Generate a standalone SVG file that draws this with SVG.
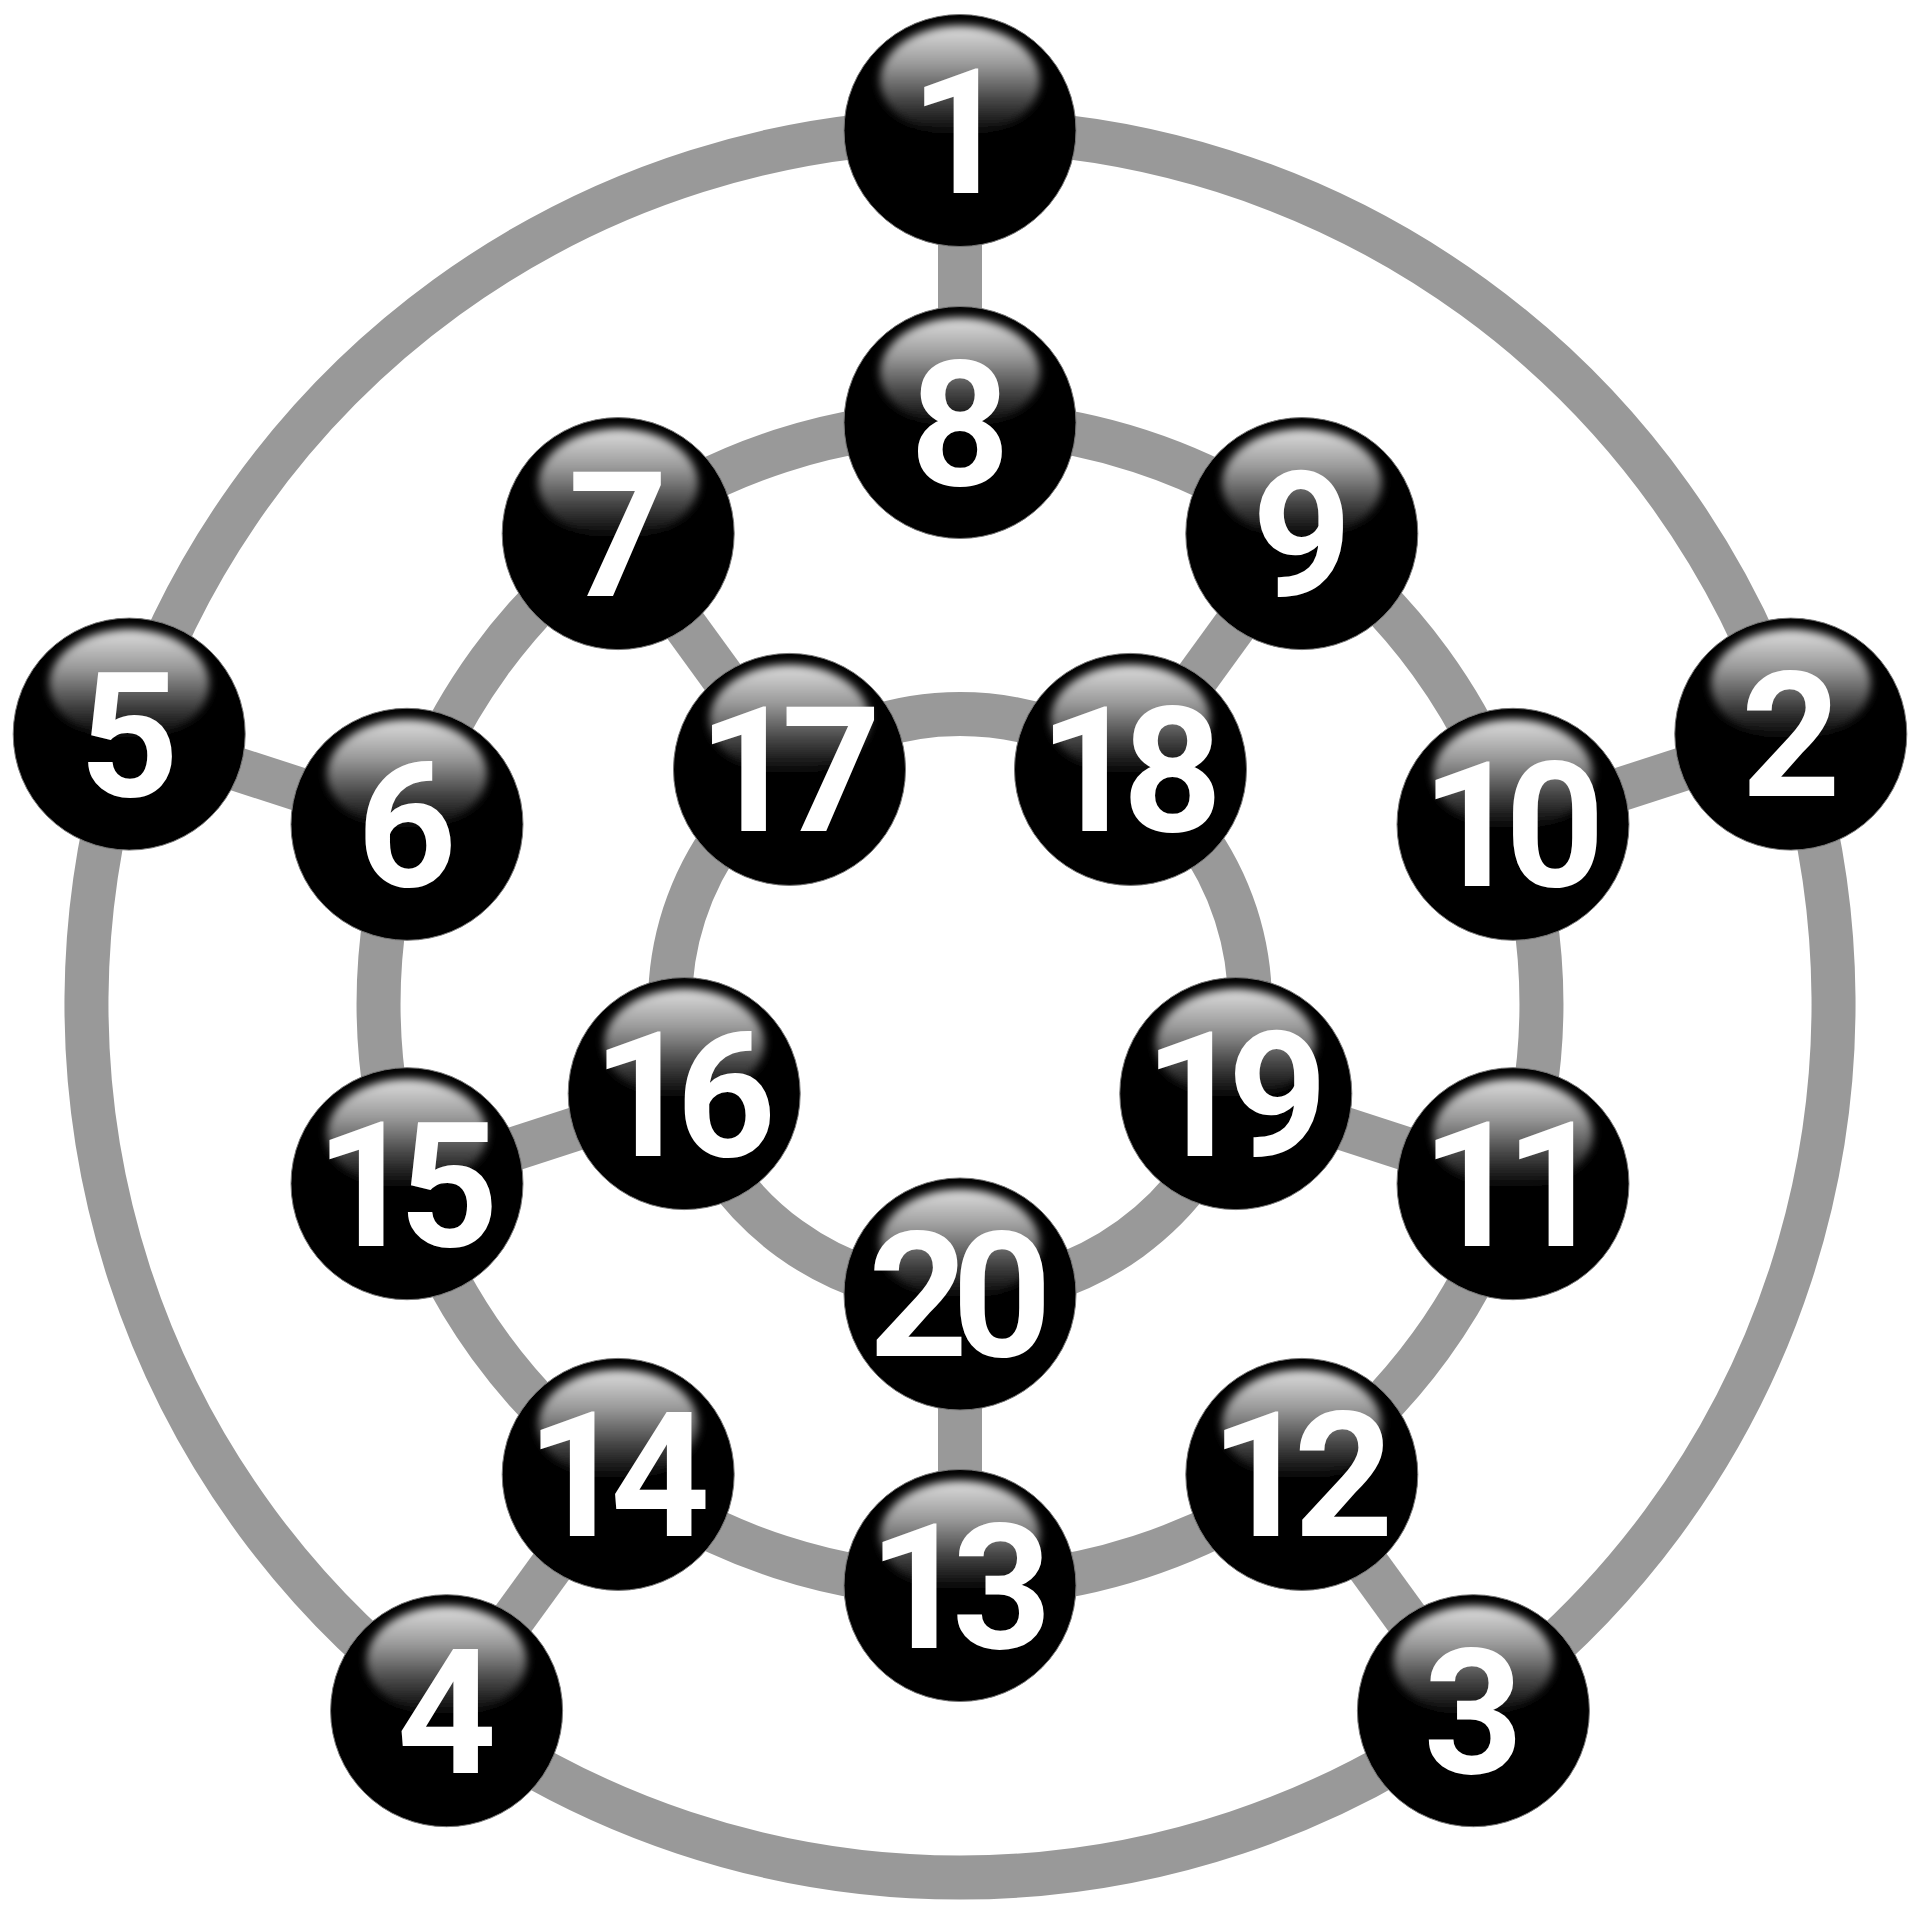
<svg xmlns="http://www.w3.org/2000/svg" xmlns:xlink="http://www.w3.org/1999/xlink" width="1920" height="1920" viewBox="0 0 1920 1920">
  <style>
    .edge { fill: none; stroke: #999999; stroke-width: 44; }
    .lbl { font-family: Roboto, "Liberation Sans", Arial, sans-serif; font-weight: 700; font-size: 174px; fill: #ffffff; text-anchor: middle; }
    .two { letter-spacing: -16px; }
  </style>
  <defs>
    <linearGradient id="shine" x1="0" y1="0" x2="0" y2="1">
      <stop offset="0" stop-color="#dedede"/>
      <stop offset="0.35" stop-color="#9a9a9a"/>
      <stop offset="0.7" stop-color="#404040"/>
      <stop offset="1" stop-color="#000000"/>
    </linearGradient>
    <filter id="soft" x="-20%" y="-20%" width="140%" height="140%">
      <feGaussianBlur stdDeviation="4"/>
    </filter>
    <g id="ball">
      <circle r="116" fill="#000000" stroke="#777777" stroke-width="1"/>
      <ellipse cx="0" cy="-50" rx="80" ry="55" fill="url(#shine)" filter="url(#soft)"/>
    </g>
  </defs>
  <rect width="1920" height="1920" fill="#ffffff"/>

  <g id="connectors">
    <path class="edge" d="M960,130.5 A873.5,873.5 0 0 1 1790.8,734.1"/>
    <path class="edge" d="M1790.8,734.1 A873.5,873.5 0 0 1 1473.4,1710.7"/>
    <path class="edge" d="M1473.4,1710.7 A873.5,873.5 0 0 1 446.6,1710.7"/>
    <path class="edge" d="M446.6,1710.7 A873.5,873.5 0 0 1 129.2,734.1"/>
    <path class="edge" d="M129.2,734.1 A873.5,873.5 0 0 1 960,130.5"/>
    <path class="edge" d="M960,422.5 A581.5,581.5 0 0 1 1301.8,533.6"/>
    <path class="edge" d="M1301.8,533.6 A581.5,581.5 0 0 1 1513,824.3"/>
    <path class="edge" d="M1513,824.3 A581.5,581.5 0 0 1 1513,1183.7"/>
    <path class="edge" d="M1513,1183.7 A581.5,581.5 0 0 1 1301.8,1474.4"/>
    <path class="edge" d="M1301.8,1474.4 A581.5,581.5 0 0 1 960,1585.5"/>
    <path class="edge" d="M960,1585.5 A581.5,581.5 0 0 1 618.2,1474.4"/>
    <path class="edge" d="M618.2,1474.4 A581.5,581.5 0 0 1 407,1183.7"/>
    <path class="edge" d="M407,1183.7 A581.5,581.5 0 0 1 407,824.3"/>
    <path class="edge" d="M407,824.3 A581.5,581.5 0 0 1 618.2,533.6"/>
    <path class="edge" d="M618.2,533.6 A581.5,581.5 0 0 1 960,422.5"/>
    <path class="edge" d="M1130.5,769.4 A290,290 0 0 1 1235.8,1093.6"/>
    <path class="edge" d="M1235.8,1093.6 A290,290 0 0 1 960,1294"/>
    <path class="edge" d="M960,1294 A290,290 0 0 1 684.2,1093.6"/>
    <path class="edge" d="M684.2,1093.6 A290,290 0 0 1 789.5,769.4"/>
    <path class="edge" d="M789.5,769.4 A290,290 0 0 1 1130.5,769.4"/>
    <line class="edge" x1="960" y1="130.5" x2="960" y2="422.5"/>
    <line class="edge" x1="1790.8" y1="734.1" x2="1513" y2="824.3"/>
    <line class="edge" x1="1473.4" y1="1710.7" x2="1301.8" y2="1474.4"/>
    <line class="edge" x1="446.6" y1="1710.7" x2="618.2" y2="1474.4"/>
    <line class="edge" x1="129.2" y1="734.1" x2="407" y2="824.3"/>
    <line class="edge" x1="618.2" y1="533.6" x2="789.5" y2="769.4"/>
    <line class="edge" x1="1301.8" y1="533.6" x2="1130.5" y2="769.4"/>
    <line class="edge" x1="1513" y1="1183.7" x2="1235.8" y2="1093.6"/>
    <line class="edge" x1="960" y1="1585.5" x2="960" y2="1294"/>
    <line class="edge" x1="407" y1="1183.7" x2="684.2" y2="1093.6"/>
  </g>

  <g id="node1"><use xlink:href="#ball" x="960" y="130.5"/><text class="lbl" x="960" y="192.5">1</text></g>
  <g id="node2"><use xlink:href="#ball" x="1790.8" y="734.1"/><text class="lbl" x="1790.8" y="796.1">2</text></g>
  <g id="node3"><use xlink:href="#ball" x="1473.4" y="1710.7"/><text class="lbl" x="1473.4" y="1772.7">3</text></g>
  <g id="node4"><use xlink:href="#ball" x="446.6" y="1710.7"/><text class="lbl" x="446.6" y="1772.7">4</text></g>
  <g id="node5"><use xlink:href="#ball" x="129.2" y="734.1"/><text class="lbl" x="129.2" y="796.1">5</text></g>
  <g id="node6"><use xlink:href="#ball" x="407" y="824.3"/><text class="lbl" x="407" y="886.3">6</text></g>
  <g id="node7"><use xlink:href="#ball" x="618.2" y="533.6"/><text class="lbl" x="618.2" y="595.6">7</text></g>
  <g id="node8"><use xlink:href="#ball" x="960" y="422.5"/><text class="lbl" x="960" y="484.5">8</text></g>
  <g id="node9"><use xlink:href="#ball" x="1301.8" y="533.6"/><text class="lbl" x="1301.8" y="595.6">9</text></g>
  <g id="node10"><use xlink:href="#ball" x="1513" y="824.3"/><text class="lbl two" x="1505" y="886.3">10</text></g>
  <g id="node11"><use xlink:href="#ball" x="1513" y="1183.7"/><text class="lbl two" x="1505" y="1245.7">11</text></g>
  <g id="node12"><use xlink:href="#ball" x="1301.8" y="1474.4"/><text class="lbl two" x="1293.8" y="1536.4">12</text></g>
  <g id="node13"><use xlink:href="#ball" x="960" y="1585.5"/><text class="lbl two" x="952" y="1647.5">13</text></g>
  <g id="node14"><use xlink:href="#ball" x="618.2" y="1474.4"/><text class="lbl two" x="610.2" y="1536.4">14</text></g>
  <g id="node15"><use xlink:href="#ball" x="407" y="1183.7"/><text class="lbl two" x="399" y="1245.7">15</text></g>
  <g id="node16"><use xlink:href="#ball" x="684.2" y="1093.6"/><text class="lbl two" x="676.2" y="1155.6">16</text></g>
  <g id="node17"><use xlink:href="#ball" x="789.5" y="769.4"/><text class="lbl two" x="781.5" y="831.4">17</text></g>
  <g id="node18"><use xlink:href="#ball" x="1130.5" y="769.4"/><text class="lbl two" x="1122.5" y="831.4">18</text></g>
  <g id="node19"><use xlink:href="#ball" x="1235.8" y="1093.6"/><text class="lbl two" x="1227.8" y="1155.6">19</text></g>
  <g id="node20"><use xlink:href="#ball" x="960" y="1294"/><text class="lbl two" x="952" y="1356">20</text></g>
</svg>
